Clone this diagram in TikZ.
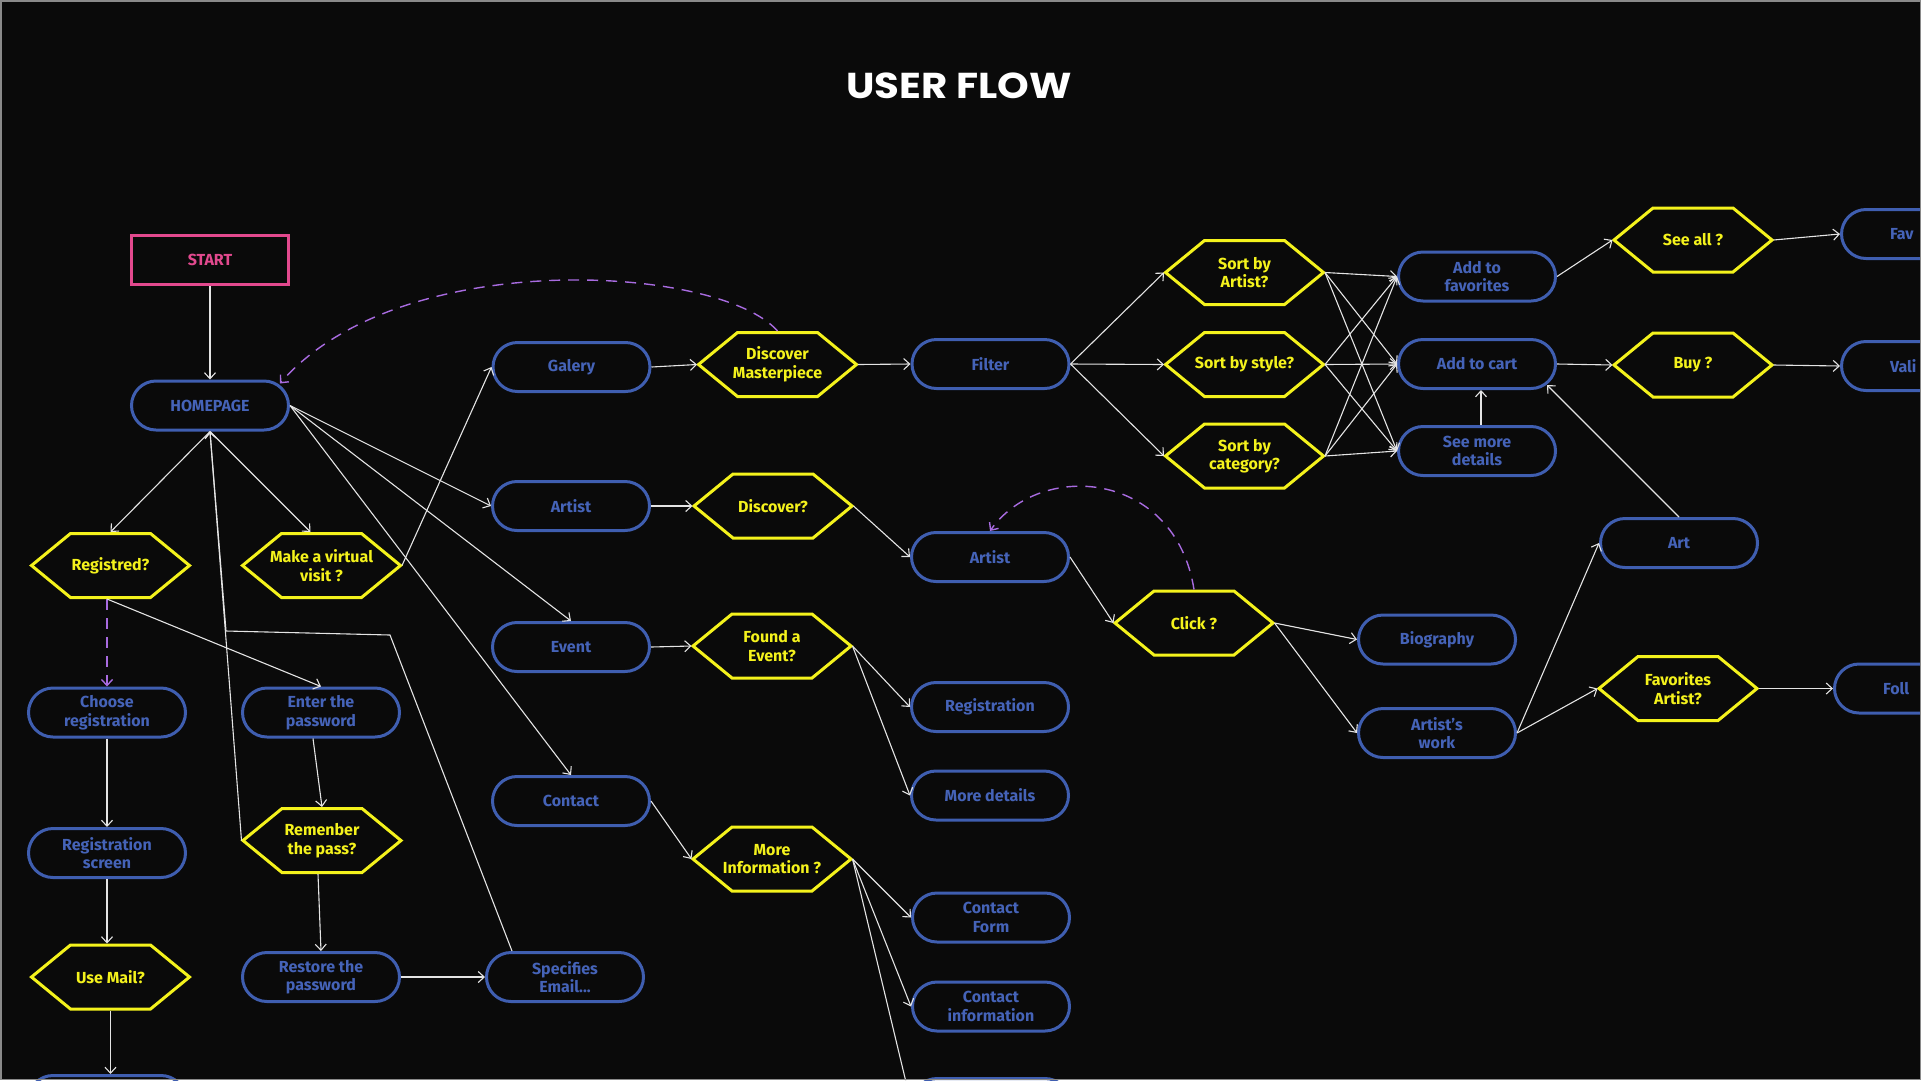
\documentclass[tikz,border=0pt]{standalone}
\usepackage{fontspec}
\setmainfont{Fira Sans}
\newfontfamily\titlefont{Poppins}[FakeStretch=1.12]
\usetikzlibrary{arrows.meta}
\definecolor{bg}{HTML}{0A0A0A}
\definecolor{nblue}{HTML}{3F5EB0}
\definecolor{tblue}{HTML}{4563B8}
\definecolor{hyel}{HTML}{F4F21C}
\definecolor{spink}{HTML}{E2498E}
\definecolor{dpurple}{HTML}{A86BE0}
\definecolor{edgec}{HTML}{E4E4E4}
\definecolor{framec}{HTML}{8A8A8A}
\tikzset{
  lbl/.style={font=\fontsize{16}{18.5}\selectfont\bfseries, align=center},
  stadium/.style={lbl, draw=nblue, line width=3pt, rounded corners=24.5pt,
    minimum width=157pt, minimum height=49pt, inner sep=0pt, text=tblue},
  hexa/.style={lbl, rectangle, minimum width=158pt, minimum height=64pt,
    inner sep=0pt, outer sep=1.5pt, text=hyel},
  hexline/.style={draw=hyel, line width=3pt, line join=miter},
  startbox/.style={lbl, draw=spink, line width=3pt, minimum width=157pt,
    minimum height=49pt, inner sep=0pt, text=spink},
  flow/.style={draw=edgec, line width=1.1pt, -{Straight Barb[length=6pt,width=11pt]}},
  back/.style={draw=dpurple, line width=1.4pt, dash pattern=on 11pt off 8pt,
    -{Straight Barb[length=6pt,width=11pt]}},
  cut/.style={text width=60pt, align=left},
}
\begin{document}
\begin{tikzpicture}[x=1pt,y=-1pt]
\useasboundingbox (0,0) rectangle (1921,1080);
\begin{scope}
\clip (0,0) rectangle (1921,1080);
\fill[bg] (0,0) rectangle (1921,1080);

\node[text=white, font=\titlefont\bfseries\fontsize{36}{40}\selectfont] (title) at (959,86) {USER FLOW};

% column 1-2
\node[startbox] (start) at (210,260) {START};
\node[stadium] (home) at (210,405.5) {HOMEPAGE};
\node[hexa] (reg) at (110.5,565.5) {Registred?};
\node[hexa] (visit) at (321.5,565.5) {Make a virtual\\visit ?};
\node[stadium] (choose) at (107,712.5) {Choose\\registration};
\node[stadium] (enterpw) at (321,712.5) {Enter the\\password};
\node[hexa] (remember) at (322,840.5) {Remenber\\the pass?};
\node[stadium] (regscreen) at (107,853) {Registration\\screen};
\node[hexa] (usemail) at (110.5,977) {Use Mail?};
\node[stadium] (restore) at (321,977) {Restore the\\password};
\node[stadium] (specemail) at (565,977) {Specifies\\Email...};
\node[stadium] (bottomA) at (107,1100) {};

% column 3-4
\node[stadium] (galery) at (571.5,367) {Galery};
\node[stadium] (artistA) at (571,506) {Artist};
\node[stadium] (event) at (571,647) {Event};
\node[stadium] (contact) at (571,801) {Contact};
\node[hexa] (dismaster) at (777.5,364.5) {Discover\\Masterpiece};
\node[hexa] (discover) at (773,506) {Discover?};
\node[hexa] (foundevent) at (772,646) {Found a\\Event?};
\node[hexa] (moreinfo) at (772,859) {More\\Information ?};

% column 5
\node[stadium] (filter) at (990.5,364) {Filter};
\node[stadium] (artistB) at (990,557) {Artist};
\node[stadium] (registration) at (990,707) {Registration};
\node[stadium] (moredetails) at (990,795.5) {More details};
\node[stadium] (contactform) at (991,917.5) {Contact\\Form};
\node[stadium] (contactinfo) at (991,1006.5) {Contact\\information};
\node[stadium] (bottomB) at (991,1103) {};

% column 6-7
\node[hexa] (click) at (1194,623) {Click ?};
\node[hexa] (sortartist) at (1244.5,272.5) {Sort by\\Artist?};
\node[hexa] (sortstyle) at (1244.5,364.5) {Sort by style?};
\node[hexa] (sortcat) at (1244.5,456) {Sort by\\category?};
\node[stadium] (addfav) at (1477,276.5) {Add to\\favorites};
\node[stadium] (addcart) at (1477,364) {Add to cart};
\node[stadium] (seemore) at (1477,451) {See more\\details};
\node[stadium] (bio) at (1437,639.5) {Biography};
\node[stadium] (artwork) at (1437,733) {Artist's\\work};

% column 8-9
\node[hexa] (seeall) at (1693,240) {See all ?};
\node[hexa] (buy) at (1693,365) {Buy ?};
\node[stadium] (art) at (1679,543) {Art};
\node[hexa] (favartist) at (1678,688.5) {Favorites\\Artist?};
\node[stadium, cut] (fav) at (1920,234) {Fav};
\node[stadium, cut] (vali) at (1920,366) {Vali};
\node[stadium, cut] (foll) at (1913,688.5) {Foll};

% hexagon outlines
\foreach \n in {reg,visit,remember,usemail,dismaster,discover,foundevent,moreinfo,
  click,sortartist,sortstyle,sortcat,seeall,buy,favartist}{
  \draw[hexline] ([xshift=1.5pt]\n.west) -- ([xshift=40.5pt,yshift=-1.5pt]\n.north west)
    -- ([xshift=-40.5pt,yshift=-1.5pt]\n.north east) -- ([xshift=-1.5pt]\n.east)
    -- ([xshift=-40.5pt,yshift=1.5pt]\n.south east) -- ([xshift=40.5pt,yshift=1.5pt]\n.south west)
    -- cycle;
}

\coordinate (pA) at (390,635);
\coordinate (pB) at (226,631);

% connectors
\draw[flow] (start.south) -- (home.north);
\draw[flow] (home.south) -- (reg.north);
\draw[flow] (home.south) -- ([xshift=-11pt]visit.north);
\draw[flow] (remember.west) -- (home.south);
\draw[flow] ([xshift=-53pt]specemail.north) -- (pA) -- (pB) -- (home.south);
\draw[flow] (home.east) -- (artistA.west);
\draw[flow] (home.east) -- (event.north);
\draw[flow] (home.east) -- (contact.north);
\draw[flow] (visit.east) -- (galery.west);
\draw[back] (reg.south -| choose.north) -- (choose.north);
\draw[flow] (reg.south -| choose.north) -- (enterpw.north);
\draw[flow] (choose.south) -- (regscreen.north);
\draw[flow] ([xshift=-8pt]enterpw.south) -- (remember.north);
\draw[flow] (regscreen.south) -- (regscreen.south |- usemail.north);
\draw[flow] (usemail.south) -- (usemail.south |- bottomA.north);
\draw[flow] ([xshift=-4pt]remember.south) -- (restore.north);
\draw[flow] (restore.east) -- (specemail.west);
\draw[flow] (galery.east) -- (dismaster.west);
\draw[flow] (artistA.east) -- (discover.west);
\draw[flow] (event.east) -- (foundevent.west);
\draw[flow] (contact.east) -- (moreinfo.west);
\draw[flow] (dismaster.east) -- (filter.west);
\draw[flow] (discover.east) -- (artistB.west);
\draw[flow] (foundevent.east) -- (registration.west);
\draw[flow] (foundevent.east) -- (moredetails.west);
\draw[flow] (moreinfo.east) -- (contactform.west);
\draw[flow] (moreinfo.east) -- (contactinfo.west);
\draw[flow] (moreinfo.east) -- (bottomB.west);
\foreach \s in {sortartist,sortstyle,sortcat}{
  \draw[flow] (filter.east) -- (\s.west);
  \foreach \t in {addfav,addcart,seemore}{
    \draw[flow] (\s.east) -- (\t.west);
  }
}
\draw[flow] ([xshift=4pt]seemore.north) -- ([xshift=4pt]addcart.south);
\draw[flow] (art.north) -- ([shift={(70,21)}]addcart.center);
\draw[flow] (addfav.east) -- (seeall.west);
\draw[flow] (addcart.east) -- (buy.west);
\draw[flow] (seeall.east) -- (fav.west);
\draw[flow] (buy.east) -- (vali.west);
\draw[flow] (artistB.east) -- (click.west);
\draw[flow] (click.east) -- (bio.west);
\draw[flow] (click.east) -- (artwork.west);
\draw[flow] (artwork.east) -- (art.west);
\draw[flow] (artwork.east) -- (favartist.west);
\draw[flow] (favartist.east) -- (foll.west);
\draw[back] (click.north) .. controls (1175,470) and (1040,460) .. (artistB.north);
\draw[back] (dismaster.north) .. controls (720,265) and (400,245) .. ([xshift=70pt,yshift=22pt]home.center);
\end{scope}
\draw[framec, line width=1.5pt] (0.75,0.75) rectangle (1920.25,1079.25);
\end{tikzpicture}
\end{document}
